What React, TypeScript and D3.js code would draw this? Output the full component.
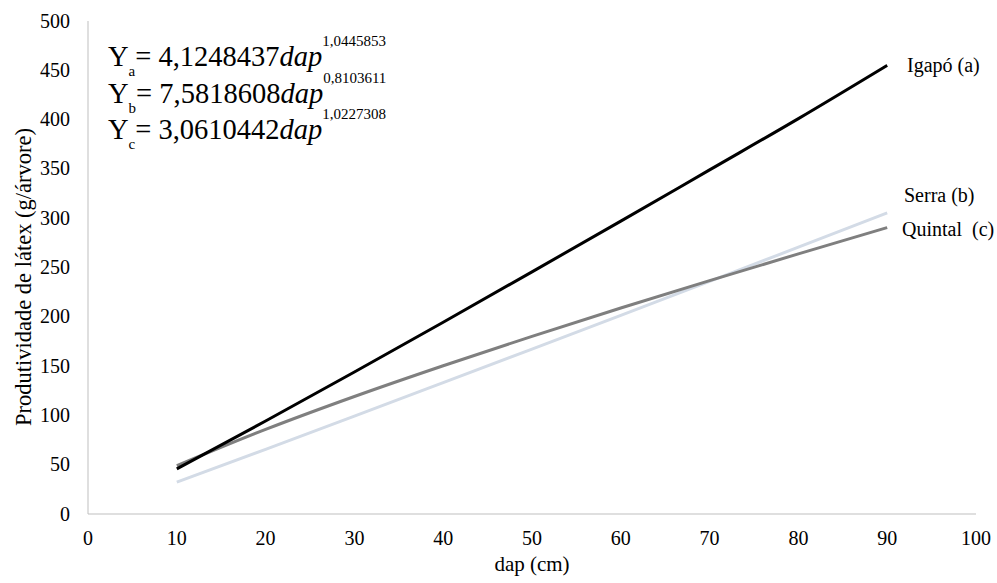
import React from "react";
import * as d3 from "d3";

const dap = [10, 20, 30, 40, 50, 60, 70, 80, 90];
const igapo = [45.7, 94.3, 144, 194.5, 245.6, 297, 349, 401, 455];
const serra = [32.3, 65.5, 99.2, 133.2, 167.3, 201.5, 235.9, 270.6, 305.5];
const quintal = [49, 85.8, 119.2, 150.4, 180.2, 208.9, 236.7, 263.8, 290.5];
const xTicks = [0, 10, 20, 30, 40, 50, 60, 70, 80, 90, 100];
const yTicks = [0, 50, 100, 150, 200, 250, 300, 350, 400, 450, 500];

const seriesNames = ["Igapó (a)", "Serra (b)", "Quintal  (c)"];
const equations = [
  { sub: "a", coef: "= 4,1248437", exp: "1,0445853" },
  { sub: "b", coef: "= 7,5818608", exp: "0,8103611" },
  { sub: "c", coef: "= 3,0610442", exp: "1,0227308" },
];

const FONT = "'Liberation Serif', 'Times New Roman', serif";

export default function App() {
  const W = 997, H = 583;
  const x = d3.scaleLinear().domain([0, 100]).range([88, 976]);
  const y = d3.scaleLinear().domain([0, 500]).range([514, 21]);
  const line = d3
    .line<[number, number]>()
    .x((d) => x(d[0]))
    .y((d) => y(d[1]))
    .curve(d3.curveMonotoneX);
  const series = [
    { name: seriesNames[1], vals: serra, color: "#d3dbe6", lx: 904, ly: 202 },
    { name: seriesNames[2], vals: quintal, color: "#7f7f7f", lx: 902, ly: 236 },
    { name: seriesNames[0], vals: igapo, color: "#000000", lx: 907, ly: 72 },
  ];
  return (
    <svg width={W} height={H} style={{ position: "absolute", left: 0, top: 0, background: "#fff" }}>
      <rect width={W} height={H} fill="#fff" />
      <line x1={x(0)} x2={x(0)} y1={y(0)} y2={y(500)} stroke="#bfbfbf" strokeWidth={1} />
      <line x1={x(0)} x2={x(100)} y1={y(0)} y2={y(0)} stroke="#bfbfbf" strokeWidth={1} />
      {yTicks.map((t) => (
        <text key={"y" + t} x={70} y={y(t) + 6.5} textAnchor="end" fontFamily={FONT} fontSize={20} fill="#000">
          {t}
        </text>
      ))}
      {xTicks.map((t) => (
        <text key={"x" + t} x={x(t)} y={545} textAnchor="middle" fontFamily={FONT} fontSize={20} fill="#000">
          {t}
        </text>
      ))}
      <text x={532} y={571} textAnchor="middle" fontFamily={FONT} fontSize={21} fill="#000">
        dap (cm)
      </text>
      <text
        transform="translate(31,277) rotate(-90)"
        textAnchor="middle"
        fontFamily={FONT}
        fontSize={22.5}
        fill="#000"
      >
        Produtividade de látex (g/árvore)
      </text>
      {series.map((s) => (
        <path
          key={s.name}
          d={line(dap.map((d, i) => [d, s.vals[i]] as [number, number])) || ""}
          fill="none"
          stroke={s.color}
          strokeWidth={3}
        />
      ))}
      {series.map((s) => (
        <text key={"l" + s.name} x={s.lx} y={s.ly} fontFamily={FONT} fontSize={20} fill="#000" style={{ whiteSpace: "pre" }}>
          {s.name}
        </text>
      ))}
      {equations.map((e, i) => (
        <text key={"e" + i} x={108} y={66 + i * 36.5} fontFamily={FONT} fontSize={28.5} fill="#000">
          Y
          <tspan fontSize={15} dy={10}>{e.sub}</tspan>
          <tspan dy={-10}>{e.coef}</tspan>
          <tspan fontStyle="italic">dap</tspan>
          <tspan fontSize={15} dy={-20}>{e.exp}</tspan>
        </text>
      ))}
    </svg>
  );
}
